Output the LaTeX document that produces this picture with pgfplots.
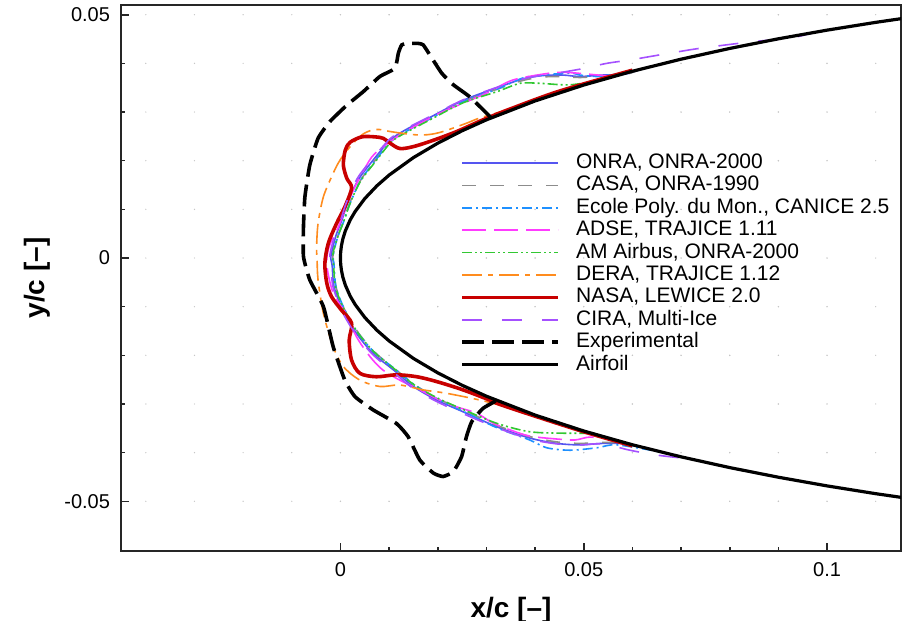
\documentclass[border=0pt]{standalone}
\usepackage{pgfplots}
\pgfplotsset{compat=1.18}
\usepackage{fontspec}
\setmainfont{Liberation Sans}
\definecolor{onra}{RGB}{85,85,240}
\definecolor{casa}{RGB}{140,140,140}
\definecolor{ecole}{RGB}{30,144,255}
\definecolor{adse}{RGB}{255,60,255}
\definecolor{amair}{RGB}{50,200,50}
\definecolor{dera}{RGB}{255,140,30}
\definecolor{nasa}{RGB}{200,0,0}
\definecolor{cira}{RGB}{165,80,255}
\begin{document}
\begin{tikzpicture}
\begin{axis}[
  x=2433pt, y=2433pt,
  xmin=-0.0451, xmax=0.1152, ymin=-0.0602, ymax=0.052,
  axis line style={line width=1pt, black!85},
  tick align=inside, tick pos=left,
  xtick={0,0.05,0.1}, ytick={-0.05,0,0.05},
  minor x tick num=4, minor y tick num=4,
  major tick length=4pt, minor tick length=2pt,
  every tick/.style={black!85, line width=0.8pt},
  scaled ticks=false,
  /pgf/number format/assume math mode=true,
  /pgf/number format/fixed,
  /pgf/number format/precision=2,
  ticklabel style={font=\fontsize{10}{12}\selectfont},
  xticklabel style={yshift=-2.5pt},
  yticklabel style={xshift=-2pt},
  xlabel={x/c [–]}, ylabel={y/c [–]},
  label style={font=\fontsize{14}{16}\selectfont\bfseries, inner sep=0pt},
  xlabel style={at={(axis description cs:0.5,-0.0842)}, anchor=north},
  ylabel style={at={(axis description cs:-0.0897,0.5)}, anchor=south},
  grid=both,
  x grid style={gray!45, line width=0.7pt, line cap=round, dash pattern=on 0pt off 24.33pt, dash phase=23.84pt},
  y grid style={gray!45, line width=0.7pt, line cap=round, dash pattern=on 0pt off 24.33pt, dash phase=11.92pt},
  legend image code/.code={\draw[#1] (0pt,0pt) -- (48pt,0pt);},
  legend cell align=left,
  legend style={draw=none, fill=none, at={(axis cs:0.0246,0.0216)}, anchor=north west,
    font=\fontsize{10.5}{12}\selectfont, inner sep=0pt, row sep=1.6pt,
    nodes={inner sep=0pt, text height=7.6pt, text depth=2pt},
    /tikz/every odd column/.append style={column sep=8pt}},
]
% ONRA
\addplot[onra, line width=0.8pt, smooth, tension=0.5] table {
0.0620 0.0389
0.0585 0.0378
0.0539 0.0376
0.0492 0.0373
0.0457 0.0376
0.0416 0.0375
0.0375 0.0368
0.0322 0.0350
0.0252 0.0324
0.0184 0.0289
0.0133 0.0263
0.0102 0.0242
0.0067 0.0201
0.0040 0.0166
0.0026 0.0140
0.0013 0.0109
0.0003 0.0078
-0.0009 0.0047
-0.0017 0.0016
-0.0020 0.0000
-0.0017 -0.0016
-0.0013 -0.0060
0.0005 -0.0107
0.0033 -0.0155
0.0067 -0.0196
0.0109 -0.0230
0.0150 -0.0264
0.0198 -0.0292
0.0252 -0.0316
0.0322 -0.0347
0.0389 -0.0370
0.0445 -0.0381
0.0492 -0.0384
0.0539 -0.0381
0.0585 -0.0382
0.0640 -0.0394
};
\addlegendentry{ONRA, ONRA-2000}
% CASA
\addplot[casa, line width=0.8pt, dash pattern=on 7pt off 7pt, smooth, tension=0.5] table {
0.0620 0.0389
0.0585 0.0377
0.0539 0.0374
0.0492 0.0371
0.0457 0.0373
0.0416 0.0372
0.0375 0.0365
0.0322 0.0347
0.0252 0.0321
0.0184 0.0286
0.0133 0.0260
0.0104 0.0240
0.0070 0.0199
0.0044 0.0164
0.0030 0.0138
0.0017 0.0108
0.0007 0.0077
-0.0005 0.0046
-0.0013 0.0016
-0.0016 0.0000
-0.0013 -0.0016
-0.0009 -0.0060
0.0009 -0.0107
0.0037 -0.0154
0.0071 -0.0194
0.0112 -0.0228
0.0153 -0.0261
0.0200 -0.0289
0.0254 -0.0313
0.0322 -0.0344
0.0389 -0.0367
0.0445 -0.0378
0.0492 -0.0381
0.0539 -0.0379
0.0585 -0.0381
0.0640 -0.0394
};
\addlegendentry{CASA, ONRA-1990}
% Ecole
\addplot[ecole, line width=0.8pt, dash pattern=on 5pt off 2pt on 1pt off 2pt, smooth, tension=0.5] table {
0.0660 0.0399
0.0595 0.0382
0.0554 0.0376
0.0527 0.0373
0.0492 0.0376
0.0472 0.0380
0.0416 0.0376
0.0375 0.0370
0.0322 0.0347
0.0252 0.0321
0.0184 0.0286
0.0133 0.0259
0.0102 0.0238
0.0069 0.0197
0.0044 0.0164
0.0030 0.0136
0.0017 0.0105
0.0007 0.0076
-0.0005 0.0045
-0.0013 0.0016
-0.0015 0.0000
-0.0013 -0.0016
-0.0009 -0.0060
0.0009 -0.0107
0.0036 -0.0154
0.0071 -0.0195
0.0112 -0.0228
0.0153 -0.0261
0.0200 -0.0290
0.0254 -0.0316
0.0322 -0.0349
0.0389 -0.0374
0.0424 -0.0390
0.0472 -0.0395
0.0527 -0.0390
0.0568 -0.0384
0.0660 -0.0399
};
\addlegendentry{Ecole Poly. du Mon., CANICE 2.5}
% ADSE
\addplot[adse, line width=0.8pt, dash pattern=on 12pt off 4pt, smooth, tension=0.5] table {
0.0560 0.0373
0.0472 0.0381
0.0431 0.0380
0.0355 0.0366
0.0307 0.0342
0.0259 0.0321
0.0211 0.0301
0.0170 0.0280
0.0122 0.0253
0.0071 0.0215
0.0050 0.0184
0.0030 0.0147
0.0009 0.0099
-0.0005 0.0062
-0.0022 0.0027
-0.0028 0.0000
-0.0026 -0.0029
-0.0017 -0.0066
-0.0005 -0.0090
0.0013 -0.0117
0.0033 -0.0162
0.0061 -0.0203
0.0087 -0.0230
0.0122 -0.0251
0.0163 -0.0271
0.0204 -0.0292
0.0239 -0.0306
0.0280 -0.0319
0.0313 -0.0339
0.0348 -0.0353
0.0389 -0.0366
0.0445 -0.0372
0.0482 -0.0374
0.0513 -0.0368
0.0560 -0.0373
};
\addlegendentry{ADSE, TRAJICE 1.11}
% AM Airbus
\addplot[amair, line width=0.8pt, dash pattern=on 5pt off 1.5pt on 1pt off 1.5pt on 1pt off 1.5pt, smooth, tension=0.5] table {
0.0540 0.0366
0.0472 0.0356
0.0410 0.0359
0.0369 0.0359
0.0322 0.0342
0.0252 0.0319
0.0184 0.0284
0.0133 0.0257
0.0104 0.0238
0.0071 0.0197
0.0044 0.0162
0.0030 0.0136
0.0017 0.0105
0.0007 0.0076
-0.0005 0.0045
-0.0014 0.0016
-0.0016 0.0000
-0.0014 -0.0016
-0.0010 -0.0060
0.0008 -0.0107
0.0036 -0.0154
0.0070 -0.0194
0.0111 -0.0228
0.0152 -0.0261
0.0200 -0.0288
0.0254 -0.0312
0.0322 -0.0340
0.0389 -0.0357
0.0457 -0.0360
0.0520 -0.0360
};
\addlegendentry{AM Airbus, ONRA-2000}
% DERA
\addplot[dera, line width=0.8pt, dash pattern=on 10pt off 3pt on 2.5pt off 3pt, smooth, tension=0.5] table {
0.0500 0.0357
0.0400 0.0325
0.0348 0.0306
0.0287 0.0288
0.0259 0.0277
0.0211 0.0260
0.0184 0.0254
0.0157 0.0253
0.0122 0.0257
0.0102 0.0260
0.0081 0.0264
0.0065 0.0263
0.0044 0.0253
0.0020 0.0229
-0.0001 0.0201
-0.0015 0.0174
-0.0035 0.0126
-0.0046 0.0071
-0.0049 0.0023
-0.0048 -0.0004
-0.0046 -0.0045
-0.0035 -0.0114
-0.0015 -0.0182
0.0006 -0.0223
0.0040 -0.0251
0.0081 -0.0264
0.0122 -0.0261
0.0170 -0.0271
0.0218 -0.0278
0.0287 -0.0292
0.0348 -0.0308
0.0400 -0.0326
0.0500 -0.0357
};
\addlegendentry{DERA, TRAJICE 1.12}
% NASA
\addplot[nasa, line width=1.8pt, smooth, tension=0.5] table {
0.0600 0.0386
0.0450 0.0343
0.0348 0.0306
0.0293 0.0284
0.0239 0.0260
0.0191 0.0242
0.0150 0.0229
0.0122 0.0225
0.0102 0.0236
0.0088 0.0246
0.0071 0.0249
0.0044 0.0249
0.0020 0.0238
0.0010 0.0222
0.0006 0.0191
0.0013 0.0164
0.0023 0.0144
0.0009 0.0105
-0.0008 0.0071
-0.0025 0.0030
-0.0032 -0.0011
-0.0028 -0.0052
-0.0018 -0.0080
0.0002 -0.0107
0.0023 -0.0134
0.0018 -0.0169
0.0023 -0.0210
0.0040 -0.0237
0.0074 -0.0244
0.0115 -0.0240
0.0157 -0.0244
0.0198 -0.0254
0.0252 -0.0271
0.0307 -0.0292
0.0328 -0.0301
0.0400 -0.0325
0.0500 -0.0357
0.0600 -0.0386
};
\addlegendentry{NASA, LEWICE 2.0}
% CIRA
\addplot[cira, line width=0.8pt, dash pattern=on 10pt off 10pt, smooth, tension=0.5] table {
0.0980 0.0465
0.0924 0.0452
0.0842 0.0444
0.0739 0.0431
0.0677 0.0421
0.0636 0.0414
0.0595 0.0407
0.0547 0.0400
0.0502 0.0390
0.0457 0.0382
0.0416 0.0376
0.0375 0.0368
0.0322 0.0351
0.0252 0.0325
0.0184 0.0291
0.0133 0.0265
0.0102 0.0245
0.0065 0.0203
0.0038 0.0169
0.0024 0.0142
0.0011 0.0111
0.0001 0.0080
-0.0011 0.0049
-0.0020 0.0016
-0.0022 0.0000
-0.0020 -0.0016
-0.0015 -0.0060
0.0003 -0.0109
0.0031 -0.0156
0.0065 -0.0197
0.0106 -0.0232
0.0148 -0.0267
0.0196 -0.0294
0.0250 -0.0319
0.0322 -0.0349
0.0389 -0.0372
0.0445 -0.0382
0.0492 -0.0384
0.0539 -0.0382
0.0595 -0.0395
0.0650 -0.0405
0.0720 -0.0413
};
\addlegendentry{CIRA, Multi-Ice}
% Experimental
\addplot[black, line width=1.8pt, dash pattern=on 11pt off 4pt, smooth, tension=0.3] table {
0.0310 0.0288
0.0266 0.0331
0.0232 0.0356
0.0208 0.0380
0.0184 0.0417
0.0170 0.0438
0.0160 0.0441
0.0139 0.0441
0.0126 0.0438
0.0119 0.0421
0.0112 0.0390
0.0081 0.0373
0.0047 0.0342
0.0013 0.0314
-0.0022 0.0280
-0.0046 0.0246
-0.0063 0.0191
-0.0073 0.0126
-0.0076 0.0064
-0.0076 0.0003
-0.0063 -0.0045
-0.0035 -0.0100
-0.0015 -0.0182
0.0009 -0.0251
0.0030 -0.0285
0.0067 -0.0312
0.0115 -0.0340
0.0139 -0.0367
0.0163 -0.0415
0.0191 -0.0442
0.0211 -0.0449
0.0232 -0.0439
0.0249 -0.0408
0.0259 -0.0367
0.0270 -0.0336
0.0293 -0.0309
0.0321 -0.0293
};
\addlegendentry{Experimental}
% Airfoil (NACA 0012 ordinates)
\addplot[black, line width=1.6pt] table {
0.12 -0.04988
0.11 -0.04843
0.10 -0.04683
0.09 -0.04505
0.08 -0.04307
0.07 -0.04086
0.06 -0.03838
0.05 -0.03555
0.04 -0.03228
0.03 -0.02840
0.025 -0.02615
0.02 -0.02360
0.015 -0.02064
0.01 -0.01704
0.0075 -0.01485
0.005 -0.01221
0.003 -0.00953
0.002 -0.00782
0.001 -0.00556
0.0005 -0.00395
0.0002 -0.00250
0.00005 -0.00126
0 0
0.00005 0.00126
0.0002 0.00250
0.0005 0.00395
0.001 0.00556
0.002 0.00782
0.003 0.00953
0.005 0.01221
0.0075 0.01485
0.01 0.01704
0.015 0.02064
0.02 0.02360
0.025 0.02615
0.03 0.02840
0.04 0.03228
0.05 0.03555
0.06 0.03838
0.07 0.04086
0.08 0.04307
0.09 0.04505
0.10 0.04683
0.11 0.04843
0.12 0.04988
};
\addlegendentry{Airfoil}
\end{axis}
\pgfresetboundingbox
\useasboundingbox ([xshift=-60.5pt,yshift=-35pt]current axis.south west) rectangle ([xshift=2.5pt,yshift=2.5pt]current axis.north east);
\end{tikzpicture}
\end{document}
